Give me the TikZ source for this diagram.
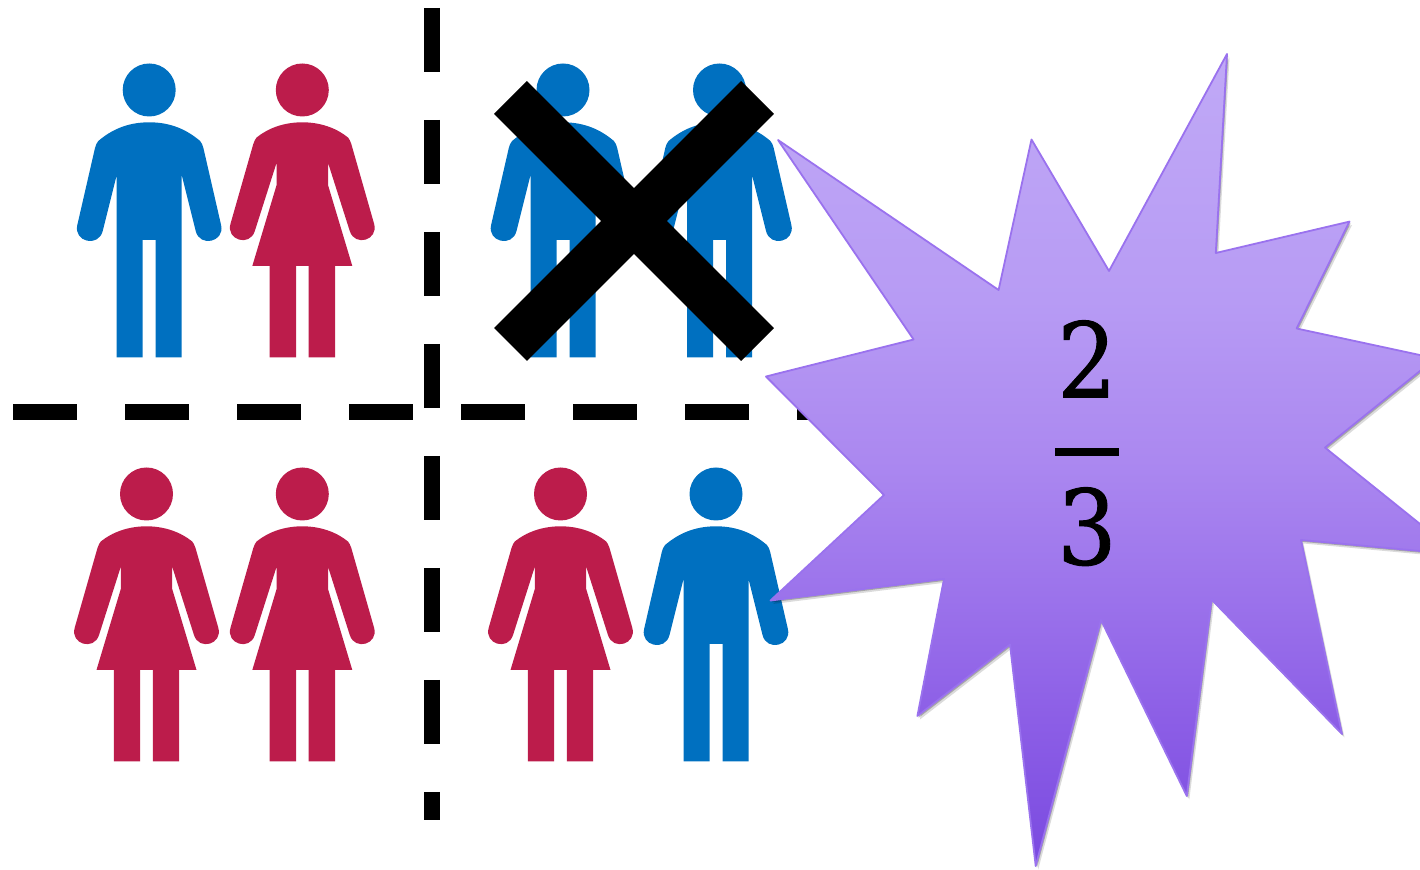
\documentclass[tikz,border=0pt]{standalone}
\usepackage{fontspec}
\newfontfamily\digitfont[FakeBold=0.9]{DejaVu Serif}
\definecolor{manblue}{HTML}{0070C0}
\definecolor{womanred}{HTML}{BC1C4B}
\definecolor{staredge}{HTML}{9A72EE}
\definecolor{sa}{HTML}{7A4AE0}
\definecolor{sb}{HTML}{8C5EE6}
\definecolor{sc}{HTML}{9B72EB}
\definecolor{sd}{HTML}{AB88F0}
\definecolor{se}{HTML}{B79BF4}
\definecolor{sf}{HTML}{C0A9F6}
\pgfdeclareverticalshading{starfade}{100bp}{
  color(0bp)=(sa); color(25bp)=(sa); color(34bp)=(sb); color(41.4bp)=(sc);
  color(50bp)=(sd); color(59.8bp)=(se); color(75bp)=(sf); color(100bp)=(sf)
}
\def\starpath{(778,140) -- (998.6,290) -- (1031.5,139.5) -- (1109,271) -- (1227,54) -- (1215.8,253) -- (1349.5,221.6) -- (1296.6,328.5) -- (1435.6,358.4) -- (1325,447.6) -- (1458,554.5) -- (1301,540) -- (1342,734) -- (1211.6,599.6) -- (1186.8,796) -- (1101,620) -- (1035.7,866) -- (1010,644.5) -- (917.4,716) -- (944,579) -- (770.5,600.5) -- (884,495) -- (766,376.5) -- (913.6,339.5) -- cycle}
\tikzset{
  x=0.5pt,y=-0.5pt,
  man/.pic={
    \fill (0,0) circle[radius=26.5];
    \fill (0,32.3) .. controls (-22,32.3) and (-38,40) .. (-50.9,51) .. controls (-52.5,53) and (-53.5,55) .. (-54.2,58)
      -- (-71.9,135.1) .. controls (-75.8,152) and (-50.7,157.8) .. (-46.5,141) -- (-32.5,85) -- (-32.5,267.3) -- (-6.5,267.3) -- (-6.5,150) -- (6.5,150) -- (6.5,267.3) -- (32.5,267.3) -- (32.5,85)
      -- (46.5,141) .. controls (50.7,157.8) and (75.8,152) .. (71.9,135.1) -- (54.2,58) .. controls (53.5,55) and (52.5,53) .. (50.9,51) .. controls (38,40) and (22,32.3) .. (0,32.3) -- cycle;
  },
  woman/.pic={
    \fill (0,0) circle[radius=26.5];
    \fill (0,32.3) .. controls (-18,32.3) and (-34,38) .. (-45.7,47.5) .. controls (-47,49) and (-48,51) .. (-49,54)
      -- (-71.8,133.8) .. controls (-76.5,150.1) and (-52.6,157.2) .. (-47.5,141.1) -- (-25.7,72.7) -- (-25.7,95) -- (-50,176) -- (-32.7,176) -- (-32.7,267.3) -- (-6.3,267.3) -- (-6.3,176)
      -- (6.3,176) -- (6.3,267.3) -- (32.7,267.3) -- (32.7,176) -- (50,176) -- (25.7,95) -- (25.7,72.7)
      -- (47.5,141.1) .. controls (52.6,157.2) and (76.5,150.1) .. (71.8,133.8) -- (49,54) .. controls (48,51) and (47,49) .. (45.7,47.5) .. controls (34,38) and (18,32.3) .. (0,32.3) -- cycle;
  },
  bluefig/.style={fill=manblue},
  redfig/.style={fill=womanred},
  dashline/.style={line width=8pt,black,dash pattern=on 32pt off 24pt},
  crossbar/.style={line width=23.3pt,black},
  numeral/.style={inner sep=0pt,anchor=base,xscale=.9,font=\digitfont\fontsize{52}{52}\selectfont},
}
\begin{document}
\begin{tikzpicture}
\useasboundingbox (0,0) rectangle (1420,870);
\clip (0,0) rectangle (1420,870);
% people
\pic[bluefig] at (149.2,90) {man};
\pic[redfig] at (302.3,90) {woman};
\pic[bluefig] at (563,90) {man};
\pic[bluefig] at (719.5,90) {man};
\pic[redfig] at (146.5,494) {woman};
\pic[redfig] at (302.3,494) {woman};
\pic[redfig] at (560.5,494) {woman};
\pic[bluefig] at (716,494) {man};
% dashed quadrant lines
\coordinate (vtop) at (432,8);
\coordinate (vbot) at (432,820);
\coordinate (hleft) at (13,412);
\coordinate (hright) at (861,412);
\draw[dashline] (vtop) -- (vbot);
\draw[dashline] (hleft) -- (hright);
% cross
\coordinate (xa) at (510.5,97.5);
\coordinate (xb) at (757.5,344.5);
\coordinate (xc) at (757.5,97.5);
\coordinate (xd) at (510.5,344.5);
\draw[crossbar] (xa) -- (xb);
\draw[crossbar] (xc) -- (xd);
% star
\fill[black,opacity=.14,shift={(2.5,3.5)}] \starpath;
\fill[black,opacity=.24,shift={(1.2,1.8)}] \starpath;
\shade[shading=starfade] \starpath;
\draw[staredge,line width=0.9pt,line join=round] \starpath;
% fraction
\node[numeral] (num) at (1087,397.5) {2};
\node[numeral] (den) at (1087,564.5) {3};
\fill[black] (1055,448.5) rectangle (1119,456);
\end{tikzpicture}
\end{document}
